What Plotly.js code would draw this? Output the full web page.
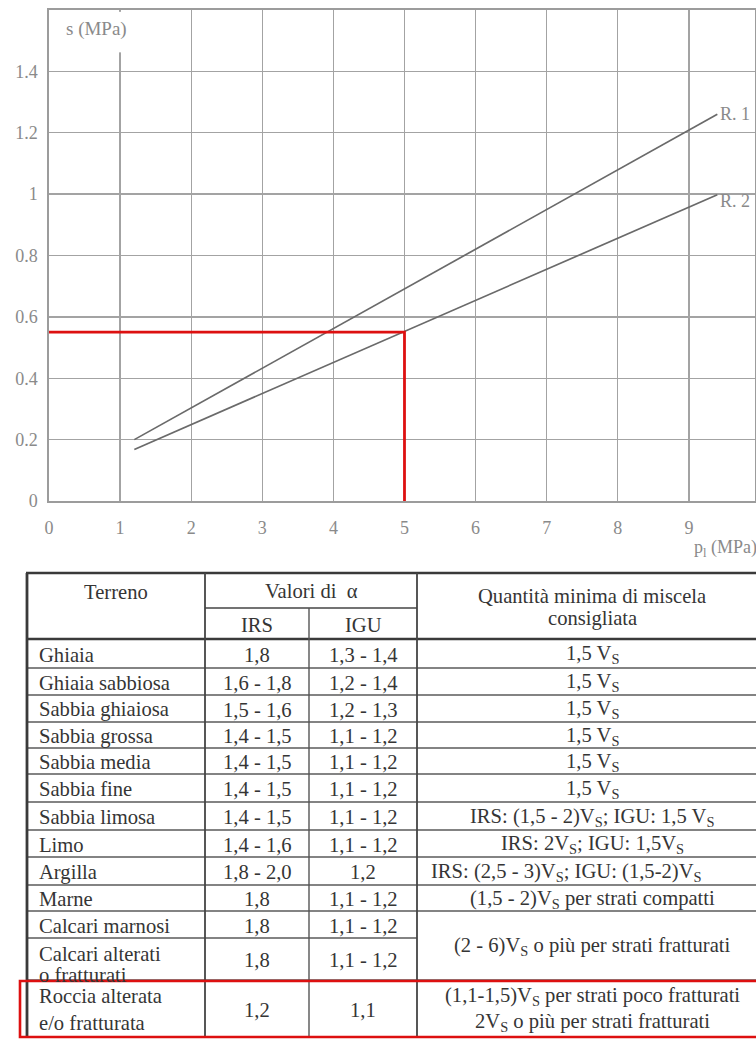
<!DOCTYPE html>
<html>
<head>
<meta charset="utf-8">
<script src="https://cdn.plot.ly/plotly-3.0.1.min.js"></script>
<style>html,body{margin:0;padding:0;background:#fff;}#chart{width:756px;height:1039px;}</style>
</head>
<body>
<div id="chart"></div>
<script>
// ---------- chart data ----------
const r1X = [1.2, 9.4];
const r1Y = [0.2, 1.26];
const r2X = [1.2, 9.4];
const r2Y = [0.168, 0.998];
const guideX = [0, 5, 5];
const guideY = [0.55, 0.55, 0];
const xTickVals = [0, 1, 2, 3, 4, 5, 6, 7, 8, 9];
const xTickText = ["0", "1", "2", "3", "4", "5", "6", "7", "8", "9"];
const yTickVals = [0, 0.2, 0.4, 0.6, 0.8, 1, 1.2, 1.4];
const yTickText = ["0", "0.2", "0.4", "0.6", "0.8", "1", "1.2", "1.4"];
const seriesNames = ["R. 1", "R. 2"];

// ---------- table data ----------
const headTerreno = "Terreno";
const headValori = "Valori di  &#945;";
const headIRS = "IRS";
const headIGU = "IGU";
const headQuant = ["Quantità minima di miscela", "consigliata"];
const terreno = ["Ghiaia", "Ghiaia sabbiosa", "Sabbia ghiaiosa", "Sabbia grossa", "Sabbia media", "Sabbia fine",
  "Sabbia limosa", "Limo", "Argilla", "Marne", "Calcari marnosi", "Calcari alterati<br>o fratturati",
  "Roccia alterata<br>e/o fratturata"];
const irs = ["1,8", "1,6 - 1,8", "1,5 - 1,6", "1,4 - 1,5", "1,4 - 1,5", "1,4 - 1,5", "1,4 - 1,5", "1,4 - 1,6",
  "1,8 - 2,0", "1,8", "1,8", "1,8", "1,2"];
const igu = ["1,3 - 1,4", "1,2 - 1,4", "1,2 - 1,3", "1,1 - 1,2", "1,1 - 1,2", "1,1 - 1,2", "1,1 - 1,2", "1,1 - 1,2",
  "1,2", "1,1 - 1,2", "1,1 - 1,2", "1,1 - 1,2", "1,1"];
const quantita = ["1,5 V<sub>S</sub>", "1,5 V<sub>S</sub>", "1,5 V<sub>S</sub>", "1,5 V<sub>S</sub>", "1,5 V<sub>S</sub>",
  "1,5 V<sub>S</sub>", "IRS: (1,5 - 2)V<sub>S</sub>; IGU: 1,5 V<sub>S</sub>", "IRS: 2V<sub>S</sub>; IGU: 1,5V<sub>S</sub>",
  "IRS: (2,5 - 3)V<sub>S</sub>; IGU: (1,5-2)V<sub>S</sub>", "(1,5 - 2)V<sub>S</sub> per strati compatti",
  "(2 - 6)V<sub>S</sub> o più per strati fratturati", null,
  "(1,1-1,5)V<sub>S</sub> per strati poco fratturati<br>2V<sub>S</sub> o più per strati fratturati"];

// ---------- layout geometry (pixels) ----------
const W = 756, H = 1039;
const px = x => x / W;
const py = y => 1 - y / H;
const plotL = 49, plotR = 755, plotT = 10, plotB = 501;
const colEdges = [27, 205, 309, 417, 768];
const headRows = [573, 608, 639];
const rowEdges = [639, 668, 695, 722, 748, 774, 802, 830, 857, 885, 911, 938, 980, 1037];
const mergedQuant = {10: 2}; // row 10 spans 2 rows in last column
const lineGap = {11: 21, 12: 27};
const lineOffset = {11: 4, 12: 0};
const serif = "Liberation Serif";
const txtColor = "#353535";
const chartTxt = "#8a8a8a";
const tFont = {family: serif, size: 20.6, color: txtColor};

const traces = [
  {x: r1X, y: r1Y, mode: "lines", name: seriesNames[0], line: {color: "#6a6a6a", width: 1.7}, hoverinfo: "x+y"},
  {x: r2X, y: r2Y, mode: "lines", name: seriesNames[1], line: {color: "#6a6a6a", width: 1.7}, hoverinfo: "x+y"},
  {x: guideX, y: guideY, mode: "lines", line: {color: "#dd1010", width: 2.8}, cliponaxis: false, hoverinfo: "skip"}
];

const annotations = [];
const shapes = [];

// chart labels
annotations.push({xref: "paper", yref: "paper", x: px(64), y: py(29), xanchor: "left", yanchor: "middle",
  text: "s (MPa)", showarrow: false, font: {family: serif, size: 19, color: chartTxt}});
annotations.push({xref: "paper", yref: "paper", x: px(692), y: py(548), xanchor: "left", yanchor: "middle",
  text: "p<sub>l</sub> (MPa)", showarrow: false, font: {family: serif, size: 18, color: chartTxt}});
annotations.push({xref: "x", yref: "y", x: r1X[1], y: r1Y[1], xanchor: "left", yanchor: "middle", xshift: 1,
  text: seriesNames[0], showarrow: false, font: {family: serif, size: 18, color: chartTxt}});
annotations.push({xref: "x", yref: "y", x: r2X[1], y: r2Y[1], xanchor: "left", yanchor: "middle", xshift: 1, yshift: -6,
  text: seriesNames[1], showarrow: false, font: {family: serif, size: 18, color: chartTxt}});
// hide the upper part of the x=1 gridline (behind the axis label)
shapes.push({type: "line", xref: "x", yref: "y", x0: 1, x1: 1, y0: 1.462, y1: 1.594, layer: "above",
  line: {color: "#ffffff", width: 3}});

// ---------- table ----------
function hline(y, x0, x1, w, c) {
  shapes.push({type: "line", xref: "paper", yref: "paper", x0: px(x0), x1: px(x1), y0: py(y), y1: py(y),
    line: {color: c || "#555", width: w || 1.4}});
}
function vline(x, y0, y1, w, c) {
  shapes.push({type: "line", xref: "paper", yref: "paper", x0: px(x), x1: px(x), y0: py(y0), y1: py(y1),
    line: {color: c || "#555", width: w || 1.4}});
}
function txt(s, x, y, anchor) {
  annotations.push({xref: "paper", yref: "paper", x: px(x), y: py(y), xanchor: anchor || "center", yanchor: "middle",
    text: s, showarrow: false, font: tFont});
}
const tTop = headRows[0], tBot = rowEdges[rowEdges.length - 1];
const cL = colEdges[0], cR = colEdges[4];
// horizontal lines
hline(tTop, cL - 1, cR, 2.6, "#3a3a3a");
hline(headRows[1], colEdges[1], colEdges[3], 1.6, "#444");
hline(headRows[2], cL, cR, 2.6, "#3a3a3a");
for (let i = 1; i < rowEdges.length; i++) {
  const y = rowEdges[i];
  if (mergedQuant[i - 1] === 2) {
    hline(y, cL, colEdges[3], 1.4, "#5a5a5a");
  } else {
    hline(y, cL, cR, 1.4, "#5a5a5a");
  }
}
// vertical lines
vline(cL, tTop, tBot, 2.8, "#3a3a3a");
vline(colEdges[1], tTop, tBot, 1.8, "#444");
vline(colEdges[2], headRows[1], tBot, 1.4, "#555");
vline(colEdges[3], tTop, tBot, 1.8, "#444");

// header text
const cc = i => (colEdges[i] + colEdges[i + 1]) / 2;
txt(headTerreno, cc(0), 592);
txt(headValori, (colEdges[1] + colEdges[3]) / 2, 591);
txt(headIRS, cc(1), 625);
txt(headIGU, cc(2), 625);
txt(headQuant[0], 592, 596);
txt(headQuant[1], 592, 618);

// body text
for (let r = 0; r < terreno.length; r++) {
  const y0 = rowEdges[r], y1 = rowEdges[r + 1];
  const ym = (y0 + y1) / 2 + 1;
  const gap = lineGap[r] || 22;
  const off = lineOffset[r] || 0;
  const lines = terreno[r].split("<br>");
  lines.forEach((s, k) => txt(s, 37, ym + off + (k - (lines.length - 1) / 2) * gap, "left"));
  txt(irs[r], cc(1), ym);
  txt(igu[r], cc(2), ym);
  if (quantita[r]) {
    let yb = y1;
    if (mergedQuant[r]) yb = rowEdges[r + mergedQuant[r]];
    const qm = (y0 + yb) / 2 + 1;
    const ql = quantita[r].split("<br>");
    const qx = r === 8 ? 566 : 592;
    ql.forEach((s, k) => txt(s, qx, qm + (k - (ql.length - 1) / 2) * 26));
  }
}
// red highlight box
shapes.push({type: "rect", xref: "paper", yref: "paper", x0: px(20), x1: px(762), y0: py(981), y1: py(1037),
  line: {color: "#dd1010", width: 2.6}, fillcolor: "rgba(0,0,0,0)", layer: "above"});

const layout = {
  width: W, height: H,
  margin: {l: 0, r: 0, t: 0, b: 0},
  paper_bgcolor: "#ffffff",
  plot_bgcolor: "#ffffff",
  showlegend: false,
  font: {family: serif},
  xaxis: {
    domain: [px(plotL), px(plotR)], range: [0, 9.93],
    tickmode: "array", tickvals: xTickVals, ticktext: xTickText,
    showgrid: true, gridcolor: "#a3a3a3", gridwidth: 1.4, zeroline: false,
    showline: true, mirror: true, linecolor: "#9c9c9c", linewidth: 1.7,
    ticks: "", ticklabelstandoff: 10,
    tickfont: {family: serif, size: 18, color: chartTxt}, fixedrange: true
  },
  yaxis: {
    domain: [py(plotB), py(plotT)], range: [0, 1.6],
    tickmode: "array", tickvals: yTickVals, ticktext: yTickText,
    showgrid: true, gridcolor: "#a3a3a3", gridwidth: 1.4, zeroline: false,
    showline: true, mirror: true, linecolor: "#9c9c9c", linewidth: 1.7,
    ticks: "", ticklabelstandoff: 6,
    tickfont: {family: serif, size: 18, color: chartTxt}, fixedrange: true
  },
  annotations: annotations,
  shapes: shapes
};

Plotly.newPlot("chart", traces, layout, {displayModeBar: false, staticPlot: true});
</script>
</body>
</html>
